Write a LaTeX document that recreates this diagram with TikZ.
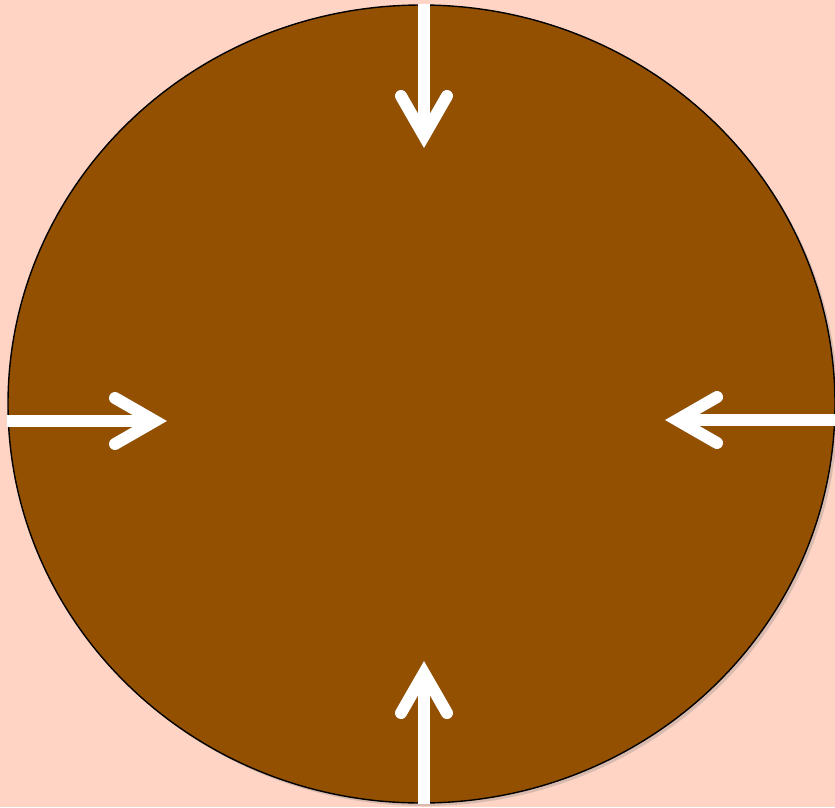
\documentclass[tikz,border=0pt]{standalone}
\usetikzlibrary{arrows.meta,shapes.geometric,shadows}
\definecolor{peach}{HTML}{FFD4C4}
\definecolor{soilbrown}{HTML}{935000}
\tikzset{
  disc/.style={ellipse, draw=black, line width=1.4pt, fill=soilbrown, inner sep=0pt,
    minimum width=827pt, minimum height=798pt,
    drop shadow={shadow xshift=3pt, shadow yshift=-3pt, opacity=0.3}},
  inarrow/.style={draw=white, line width=12pt,
    -{Straight Barb[length=40pt, width=46pt, line cap=round, line join=miter]}},
  arrowshade/.style={inarrow, draw=black, opacity=0.3, shift={(2pt,-2pt)}}
}
\begin{document}
\begin{tikzpicture}[x=1pt,y=-1pt]
\fill[peach] (0,0) rectangle (835,807);
\useasboundingbox (0,0) rectangle (835,807);
\node[disc] (disc) at (421.5,404) {};
\coordinate (ntip) at (424,148); \coordinate (stip) at (424,661);
\coordinate (wtip) at (167,421); \coordinate (etip) at (665,420);
% shadows first, then the white arrows
\foreach \tip/\side in {ntip/north, stip/south} {
  \draw[arrowshade] (\tip |- disc.\side) -- (\tip);
  \draw[inarrow] (\tip |- disc.\side) -- (\tip);
}
\foreach \tip/\side in {wtip/west, etip/east} {
  \draw[arrowshade] (\tip -| disc.\side) -- (\tip);
  \draw[inarrow] (\tip -| disc.\side) -- (\tip);
}
\end{tikzpicture}
\end{document}
